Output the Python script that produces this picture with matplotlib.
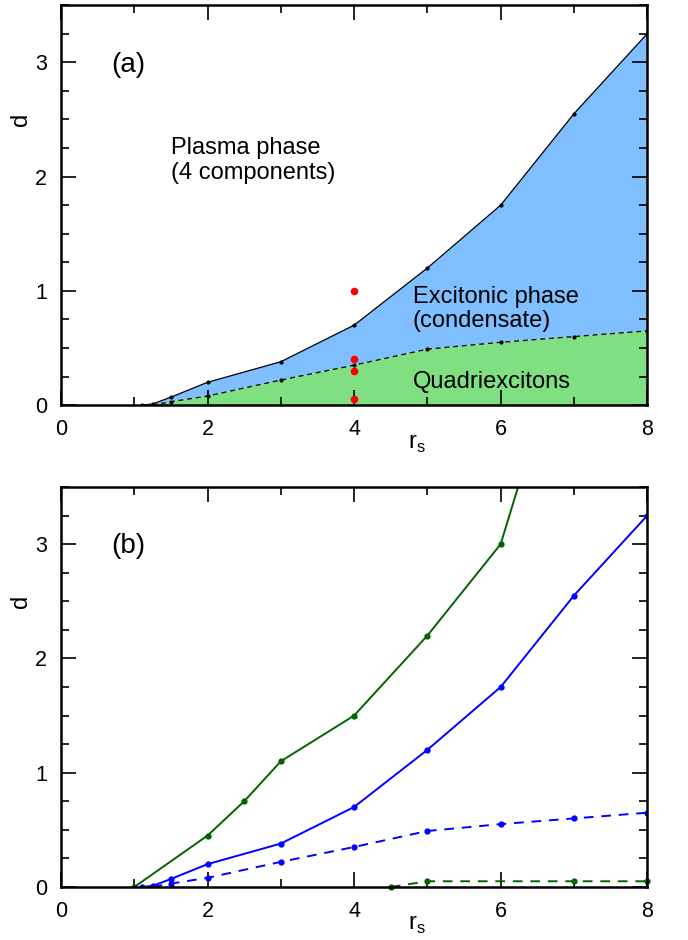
import matplotlib.pyplot as plt
from matplotlib.ticker import MultipleLocator

plt.rcParams['font.family'] = ['Liberation Sans', 'DejaVu Sans']

# phase boundaries d(r_s)
rs_upper = [1.1, 1.25, 1.5, 2, 3, 4, 5, 6, 7, 8]
d_upper = [0.0, 0.01, 0.07, 0.2, 0.38, 0.7, 1.2, 1.75, 2.55, 3.25]
rs_lower = [1.25, 1.5, 2, 3, 4, 5, 6, 7, 8]
d_lower = [0.0, 0.03, 0.08, 0.22, 0.35, 0.49, 0.55, 0.6, 0.65]

# sample points at r_s = 4
rs_red = [4, 4, 4, 4]
d_red = [1.0, 0.4, 0.3, 0.05]

# green curves, panel (b)
rs_green = [1, 2, 2.5, 3, 4, 5, 6, 7]
d_green = [0.0, 0.45, 0.75, 1.1, 1.5, 2.2, 3.0, 5.1]
rs_green_d = [4.5, 5, 7, 8]
d_green_d = [0.0, 0.05, 0.05, 0.05]

blue_fill = '#80bfff'
green_fill = '#80df80'
dkgreen = '#006400'

fig = plt.figure(figsize=(6.88, 9.4), dpi=100)
ax1 = fig.add_axes([0.0887, 0.569, 0.852, 0.4255])
ax2 = fig.add_axes([0.0887, 0.0564, 0.852, 0.4255])


def style(ax):
    ax.set_xlim(0, 8)
    ax.set_ylim(0, 3.5)
    ax.xaxis.set_major_locator(MultipleLocator(2))
    ax.xaxis.set_minor_locator(MultipleLocator(1))
    ax.yaxis.set_major_locator(MultipleLocator(1))
    ax.yaxis.set_minor_locator(MultipleLocator(0.25))
    ax.tick_params(which='both', direction='in', top=True, right=True,
                   labelsize=15.5, width=1.2)
    ax.tick_params(which='major', length=11, pad=10)
    ax.tick_params(which='minor', length=6)
    for s in ax.spines.values():
        s.set_linewidth(1.8)
    ax.set_xlabel('r$_\\mathregular{s}$', fontsize=17)
    ax.xaxis.set_label_coords(0.607, -0.068)
    ax.set_ylabel('d', fontsize=17)
    ax.yaxis.set_label_coords(-0.05, 0.714)


# (a) phase diagram
poly_x = rs_upper + [8] + rs_lower[::-1]
poly_y = d_upper + [d_lower[-1]] + d_lower[::-1]
ax1.fill(poly_x, poly_y, color=blue_fill, lw=0)
ax1.fill(rs_lower + [8], d_lower + [0], color=green_fill, lw=0)
ax1.plot(rs_upper, d_upper, color='black', lw=0.9, marker='o', ms=2)
ax1.plot(rs_lower, d_lower, color='black', lw=0.9, ls=(0, (4, 3)),
         marker='o', ms=2)
ax1.plot(rs_red, d_red, ls='none', marker='o', ms=5.5, color='red', mec='none')
style(ax1)
ax1.text(0.68, 2.98, '(a)', fontsize=20, va='center')
ax1.text(1.5, 2.14, 'Plasma phase\n(4 components)', fontsize=17,
         va='center', linespacing=1.15)
ax1.text(4.8, 0.84, 'Excitonic phase\n(condensate)', fontsize=17,
         va='center', linespacing=1.15)
ax1.text(4.8, 0.2, 'Quadriexcitons', fontsize=17, va='center')

# (b) boundaries compared
ax2.plot(rs_green, d_green, color=dkgreen, lw=1.4, marker='o', ms=3.5)
ax2.plot(rs_upper, d_upper, color='blue', lw=1.4, marker='o', ms=3.5)
ax2.plot(rs_lower, d_lower, color='blue', lw=1.4, ls=(0, (5, 4)),
         marker='o', ms=3.5)
ax2.plot(rs_green_d, d_green_d, color=dkgreen, lw=1.4, ls=(0, (5, 4)),
         marker='o', ms=3.5, clip_on=False)
style(ax2)
ax2.text(0.68, 2.98, '(b)', fontsize=20, va='center')

fig.savefig('out.png', dpi=100)
